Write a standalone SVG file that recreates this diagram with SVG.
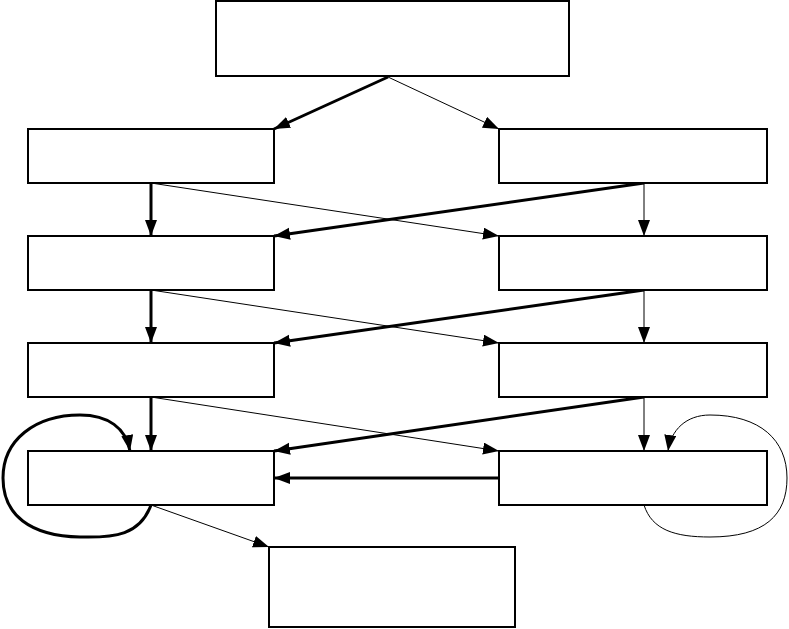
<svg xmlns="http://www.w3.org/2000/svg" width="789" height="629" viewBox="0 0 789 629">
<style>
.node rect{fill:#fff;stroke:#000;stroke-width:2}
.e{fill:none;stroke:#000}
.thin{stroke-width:1}
.thick{stroke-width:3}
</style>
<defs>
<marker id="ah" markerUnits="userSpaceOnUse" markerWidth="18" markerHeight="14" refX="16" refY="6" orient="auto">
<path d="M0,0 L16,6 L0,12 z" fill="#000"/>
</marker>
</defs>
<rect width="789" height="629" fill="#fff"/>
<g id="connectors">
<path class="e thick" d="M388,77 L274,129" marker-end="url(#ah)"/>
<path class="e thin" d="M388,77 L499,129" marker-end="url(#ah)"/>
<path class="e thick" d="M151,183 L151,236" marker-end="url(#ah)"/>
<path class="e thin" d="M151,183 L499,236" marker-end="url(#ah)"/>
<path class="e thick" d="M644,183 L274,236" marker-end="url(#ah)"/>
<path class="e thin" d="M644,183 L644,236" marker-end="url(#ah)"/>
<path class="e thick" d="M151,290 L151,343" marker-end="url(#ah)"/>
<path class="e thin" d="M151,290 L499,343" marker-end="url(#ah)"/>
<path class="e thick" d="M644,290 L274,343" marker-end="url(#ah)"/>
<path class="e thin" d="M644,290 L644,343" marker-end="url(#ah)"/>
<path class="e thick" d="M151,397 L151,451" marker-end="url(#ah)"/>
<path class="e thin" d="M151,397 L499,451" marker-end="url(#ah)"/>
<path class="e thick" d="M644,397 L274,451" marker-end="url(#ah)"/>
<path class="e thin" d="M644,397 L644,451" marker-end="url(#ah)"/>
<path class="e thick" d="M499,478 L274,478" marker-end="url(#ah)"/>
<path class="e thin" d="M151,505 L269,547" marker-end="url(#ah)"/>
<path class="e thick" d="M151,505 C140,535 115,538 80,537 C30,536 3,515 3,478 C3,440 35,415 80,415 C108,415 126,428 130,451" marker-end="url(#ah)"/>
<path class="e thin" d="M644,505 C652,530 675,537 710,537 C765,537 787,515 787,478 C787,440 760,415 710,415 C686,415 671,430 668,451" marker-end="url(#ah)"/>
</g>
<g id="n0" class="node"><rect x="216" y="1" width="353" height="75"/></g>
<g id="n1" class="node"><rect x="28" y="129" width="246" height="54"/></g>
<g id="n2" class="node"><rect x="499" y="129" width="268" height="54"/></g>
<g id="n3" class="node"><rect x="28" y="236" width="246" height="54"/></g>
<g id="n4" class="node"><rect x="499" y="236" width="268" height="54"/></g>
<g id="n5" class="node"><rect x="28" y="343" width="246" height="54"/></g>
<g id="n6" class="node"><rect x="499" y="343" width="268" height="54"/></g>
<g id="n7" class="node"><rect x="28" y="451" width="246" height="54"/></g>
<g id="n8" class="node"><rect x="499" y="451" width="268" height="54"/></g>
<g id="n9" class="node"><rect x="269" y="547" width="246" height="80"/></g>
</svg>
